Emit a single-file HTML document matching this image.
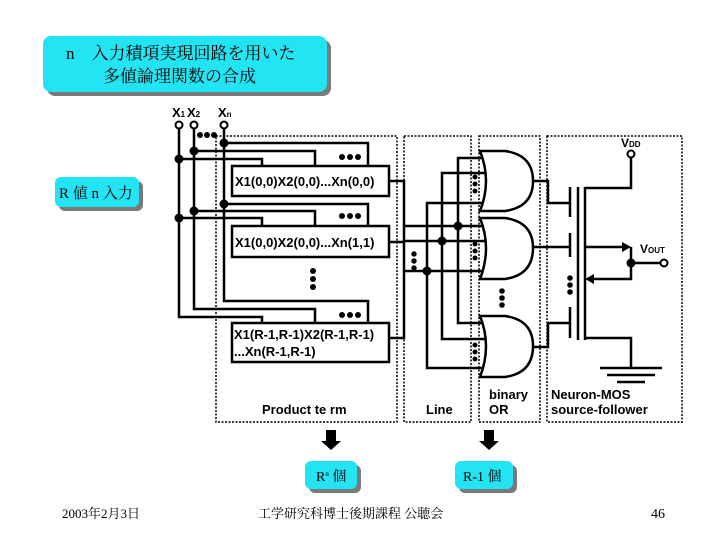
<!DOCTYPE html>
<html><head><meta charset="utf-8"><style>
html,body{margin:0;padding:0;background:#fff;}
svg{display:block;}
.s{font-family:"Liberation Serif","Noto Serif CJK SC",serif;}
.b{font-family:"Liberation Sans",sans-serif;font-weight:bold;}
</style></head><body>
<svg width="728" height="546" viewBox="0 0 728 546" xmlns="http://www.w3.org/2000/svg">
<rect x="47" y="40" width="284" height="56" rx="8" fill="#7a7a7a"/>
<rect x="43" y="36" width="284" height="56" rx="8" fill="#22e4f2"/>
<text x="66" y="59" class="s" font-size="17">n　入力積項実現回路を用いた</text>
<text x="103" y="82" class="s" font-size="17">多値論理関数の合成</text>
<rect x="59" y="181" width="84" height="30" rx="6" fill="#7a7a7a"/>
<rect x="55" y="177" width="84" height="30" rx="6" fill="#22e4f2"/>
<text x="59" y="198" class="s" font-size="15">R 値 n 入力</text>

<g fill="none" stroke="#000" stroke-width="1.5" stroke-dasharray="2,1.5">
<rect x="216" y="136" width="181" height="286"/>
<rect x="404" y="136" width="67" height="286"/>
<rect x="479" y="136" width="61" height="286"/>
<rect x="547" y="136" width="135" height="286"/>
</g>

<g fill="none" stroke="#000" stroke-width="2.5">
<path d="M179 128V317H262V323"/>
<path d="M194 128V309H315V323"/>
<path d="M224 128V301H368V323"/>
<path d="M224 143H368V166M194 151H315V166M179 159H262V166"/>
<path d="M224 204H368V226M194 211H315V226M179 218H262V226"/>
<rect x="232" y="166" width="157" height="30" fill="#fff"/>
<rect x="232" y="226" width="157" height="31" fill="#fff"/>
<rect x="232" y="323" width="157" height="39" fill="#fff"/>
<path d="M389 181H404V338H389M389 242H404"/>
<path d="M404 226H490M404 241H490M404 271H490"/>
<path d="M458 226V158H490M458 226V323H490"/>
<path d="M442 241V173H490M442 241V339H490"/>
<path d="M427 271V203H490M427 271V368H490"/>
<path d="M480 151H505Q533 155 533 181Q533 207 505 211H480Q492 181 480 151Z" fill="#fff"/>
<path d="M480 218H505Q533 222 533 248Q533 275 505 279H480Q492 248 480 218Z" fill="#fff"/>
<path d="M480 316H505Q533 320 533 346Q533 373 505 377H480Q492 346 480 316Z" fill="#fff"/>
<path d="M533 181H548V203H570M533 247H570M533 347H548V323H570"/>
<path d="M570 187V217M570 233V257M570 307V338"/>
<path d="M578 187V340M585 187V340" stroke-width="2.5"/>
<path d="M585 188H631V158M585 247H624M631 247V279H592M585 338H631V368M631 263H660"/>
<path d="M600 368H662M607 375H655M617 382H645"/>
</g>
<path d="M631 247l-9-5v10z M585 279l9-5v10z"/>
<g fill="#fff" stroke="#000" stroke-width="2">
<circle cx="179" cy="125" r="3.5"/><circle cx="194" cy="125" r="3.5"/><circle cx="224" cy="125" r="3.5"/>
<circle cx="631" cy="154" r="3.5"/><circle cx="664" cy="263" r="3.5"/>
</g>
<g fill="#000">
<circle cx="224" cy="143" r="4.5"/><circle cx="194" cy="151" r="4.5"/><circle cx="179" cy="159" r="4.5"/>
<circle cx="224" cy="204" r="4.5"/><circle cx="194" cy="211" r="4.5"/><circle cx="179" cy="218" r="4.5"/>
<circle cx="458" cy="226" r="4.5"/><circle cx="442" cy="241" r="4.5"/><circle cx="427" cy="271" r="4.5"/>
<circle cx="631" cy="263" r="4.5"/>
<circle cx="200" cy="135" r="3"/><circle cx="207" cy="135" r="3"/><circle cx="214" cy="135" r="3"/>
<circle cx="342" cy="157" r="3"/><circle cx="350" cy="157" r="3"/><circle cx="358" cy="157" r="3"/>
<circle cx="342" cy="216" r="3"/><circle cx="350" cy="216" r="3"/><circle cx="358" cy="216" r="3"/>
<circle cx="342" cy="315" r="3"/><circle cx="350" cy="315" r="3"/><circle cx="358" cy="315" r="3"/>
<circle cx="313" cy="271" r="3"/><circle cx="313" cy="279" r="3"/><circle cx="313" cy="287" r="3"/>
<circle cx="414" cy="254" r="2.7"/><circle cx="414" cy="261" r="2.7"/><circle cx="414" cy="268" r="2.7"/>
<circle cx="475" cy="177" r="2.5"/><circle cx="475" cy="184" r="2.5"/><circle cx="475" cy="191" r="2.5"/>
<circle cx="475" cy="244" r="2.5"/><circle cx="475" cy="251" r="2.5"/><circle cx="475" cy="258" r="2.5"/>
<circle cx="475" cy="345" r="2.5"/><circle cx="475" cy="352" r="2.5"/><circle cx="475" cy="359" r="2.5"/>
<circle cx="502" cy="291" r="2.8"/><circle cx="502" cy="298" r="2.8"/><circle cx="502" cy="305" r="2.8"/>
<circle cx="570" cy="278" r="2.8"/><circle cx="570" cy="285" r="2.8"/><circle cx="570" cy="292" r="2.8"/>
</g>
<g class="b" font-size="13">
<text x="235" y="186">X1(0,0)X2(0,0)...Xn(0,0)</text>
<text x="235" y="247">X1(0,0)X2(0,0)...Xn(1,1)</text>
<text x="234" y="339">X1(R-1,R-1)X2(R-1,R-1)</text>
<text x="234" y="356">...Xn(R-1,R-1)</text>
<text x="262" y="414">Product te rm</text>
<text x="426" y="414">Line</text>
<text x="489" y="399">binary</text>
<text x="489" y="414">OR</text>
<text x="551" y="399">Neuron-MOS</text>
<text x="551" y="414">source-follower</text>
<text x="172" y="117">X<tspan font-size="8">1</tspan></text>
<text x="187" y="117">X<tspan font-size="8">2</tspan></text>
<text x="218" y="117">X<tspan font-size="8">n</tspan></text>
<text x="621" y="147" font-size="12">V<tspan font-size="8">DD</tspan></text>
<text x="640" y="253" font-size="12">V<tspan font-size="8">OUT</tspan></text>
</g>
<path d="M326 430h10v11h5l-10 9-10-9h5z"/>
<path d="M484 430h10v11h5l-10 9-10-9h5z"/>
<rect x="309" y="465" width="52" height="28" rx="6" fill="#7a7a7a"/>
<rect x="305" y="461" width="52" height="28" rx="6" fill="#22e4f2"/>
<text x="316" y="481" class="s" font-size="14">R<tspan font-size="7" dy="-5">n</tspan><tspan dy="5"> 個</tspan></text>
<rect x="459" y="465" width="58" height="28" rx="6" fill="#7a7a7a"/>
<rect x="455" y="461" width="58" height="28" rx="6" fill="#22e4f2"/>
<text x="463" y="481" class="s" font-size="14">R-1 個</text>
<text x="62" y="518" class="s" font-size="13">2003年2月3日</text>
<text x="258" y="518" class="s" font-size="13">工学研究科博士後期課程 公聴会</text>
<text x="651" y="518" class="s" font-size="14">46</text>
</svg>
</body></html>
